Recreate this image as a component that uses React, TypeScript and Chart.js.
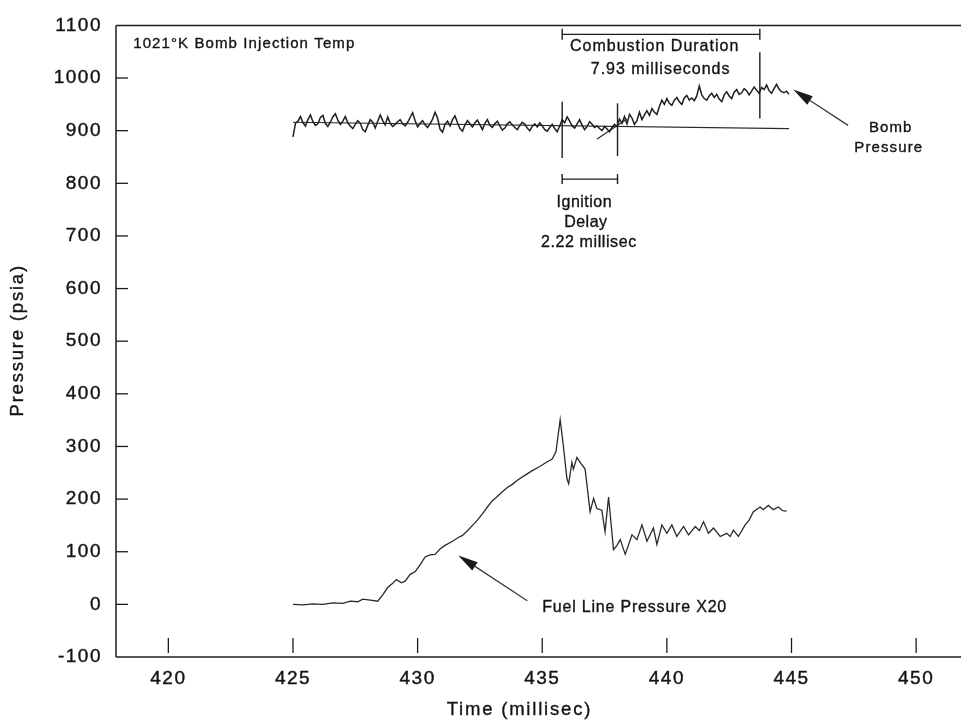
import React, { useEffect, useRef } from 'react';
import { Chart, registerables } from 'chart.js';

Chart.register(...registerables);

const FONT = '"Liberation Sans", Arial, sans-serif';
const INK = '#1c1c1c';
const TEXT = '#141414';

// Axis ranges and ticks
const xRange = [417.9, 451.8];
const yRange = [-100, 1100];
const xTickValues = [420, 425, 430, 435, 440, 445, 450];
const yTickValues = [-100, 0, 100, 200, 300, 400, 500, 600, 700, 800, 900, 1000, 1100];

// Bomb pressure (psia), sampled every 0.1 ms from 425.0 ms
const bombStart = 425.0;
const bombStep = 0.1;
const bombValues = [
  888, 914, 918, 927, 915, 909, 921, 930, 917, 910,
  913, 925, 929, 914, 908, 916, 926, 932, 920, 912,
  918, 927, 915, 909, 904, 912, 919, 914, 902, 898,
  910, 921, 916, 905, 918, 930, 919, 911, 926, 914,
  908, 912, 917, 921, 913, 909, 916, 925, 934, 919,
  907, 914, 919, 911, 906, 913, 922, 935, 924, 903,
  897, 912, 918, 909, 921, 928, 915, 904, 899, 911,
  919, 913, 907, 915, 920, 911, 902, 914, 921, 910,
  906, 913, 918, 909, 901, 905, 913, 917, 911, 906,
  902, 910, 916, 912, 905, 900, 908, 913, 907, 915,
  909, 902, 899, 906, 912, 904, 898, 909, 921, 915,
  926, 918, 909, 905, 913, 921, 910, 902, 908, 917,
  912, 906, 909, 904, 900, 908, 903, 898, 906, 912,
  908, 922, 914, 927, 913, 931, 924, 912, 919, 935,
  921, 930, 938, 929, 942, 935, 931, 946, 958, 950,
  961, 952, 948, 958, 963, 955, 950, 962, 967, 958,
  962, 957, 966, 985, 968, 961, 958, 966, 971, 963,
  969, 960, 955, 968, 974, 966, 961, 973, 978, 969,
  972, 980, 976, 968, 975, 983, 977, 971, 982, 978,
  987, 976, 971, 980, 988, 979, 974, 972, 975, 969,
];

// Fuel line pressure x20
const fuelTimes = [
  425.0, 425.4, 425.8, 426.2, 426.6, 427.0, 427.3, 427.6, 427.8, 428.1,
  428.4, 428.6, 428.8, 429.0, 429.15, 429.35, 429.5, 429.7, 429.9, 430.1,
  430.3, 430.5, 430.7, 430.9, 431.1, 431.4, 431.6, 431.8, 432.0, 432.2,
  432.4, 432.6, 432.8, 433.0, 433.2, 433.4, 433.6, 433.8, 434.0, 434.3,
  434.6, 434.9, 435.2, 435.4, 435.55, 435.72, 435.85, 435.99, 436.06, 436.19,
  436.25, 436.39, 436.55, 436.72, 436.92, 437.06, 437.19, 437.39, 437.52, 437.66,
  437.86, 438.0, 438.13, 438.33, 438.6, 438.8, 439.0, 439.2, 439.46, 439.6,
  439.8, 440.0, 440.2, 440.4, 440.67, 440.87, 441.14, 441.3, 441.47, 441.67,
  441.87, 442.14, 442.4, 442.54, 442.67, 442.87, 443.14, 443.3, 443.47, 443.74,
  443.87, 444.07, 444.27, 444.47, 444.65, 444.8,
];
const fuelValues = [
  0, -1, 1, 0, 3, 2, 6, 5, 10, 8,
  6, 18, 32, 40, 47, 41, 44, 57, 62, 75,
  90, 94, 95, 105, 112, 120, 126, 131, 140, 150,
  160, 172, 185, 197, 205, 214, 222, 228, 236, 245,
  254, 262, 271, 276, 290, 351, 300, 239, 229, 270,
  257, 279, 268, 257, 176, 201, 182, 179, 138, 204,
  104, 112, 123, 95, 132, 123, 151, 120, 145, 114,
  151, 135, 151, 129, 148, 132, 148, 140, 157, 135,
  145, 129, 135, 129, 141, 129, 151, 160, 176, 185,
  180, 188, 180, 185, 178, 177,
];

// Reference lines drawn by the analyst
const baselineTimes = [425.0, 444.9];
const baselineValues = [916, 904];
const tangentTimes = [437.2, 438.4];
const tangentValues = [884, 922];

// Event markers (ms)
const ignitionStart = 435.8;
const ignitionEnd = 438.02;
const combustionEnd = 443.73;

function drawText(ctx: CanvasRenderingContext2D, text: string, x: number, y: number, size: number, align: string, spacing: number) {
  ctx.save();
  ctx.font = `${size}px ${FONT}`;
  ctx.fillStyle = TEXT;
  ctx.strokeStyle = TEXT;
  ctx.lineWidth = 0.35;
  ctx.textAlign = 'left';
  ctx.textBaseline = 'middle';
  (ctx as any).letterSpacing = spacing + 'px';
  const w = ctx.measureText(text).width - spacing;
  let sx = x;
  if (align === 'center') sx = x - w / 2;
  else if (align === 'right') sx = x - w;
  ctx.fillText(text, sx, y);
  ctx.strokeText(text, sx, y);
  ctx.restore();
}

function seg(ctx: CanvasRenderingContext2D, x1: number, y1: number, x2: number, y2: number) {
  ctx.beginPath();
  ctx.moveTo(x1, y1);
  ctx.lineTo(x2, y2);
  ctx.stroke();
}

function arrow(ctx: CanvasRenderingContext2D, tx: number, ty: number, hx: number, hy: number) {
  const ang = Math.atan2(hy - ty, hx - tx);
  const len = 20;
  const half = 5;
  const bx = hx - len * Math.cos(ang);
  const by = hy - len * Math.sin(ang);
  ctx.save();
  ctx.strokeStyle = '#3a3a3a';
  ctx.fillStyle = '#1a1a1a';
  ctx.lineWidth = 1.3;
  seg(ctx, tx, ty, bx, by);
  ctx.beginPath();
  ctx.moveTo(hx, hy);
  ctx.lineTo(bx + half * Math.sin(ang), by - half * Math.cos(ang));
  ctx.lineTo(bx - half * Math.sin(ang), by + half * Math.cos(ang));
  ctx.closePath();
  ctx.fill();
  ctx.restore();
}

const paperPlugin = {
  id: 'paper',
  beforeDraw(chart: any) {
    const { ctx } = chart;
    ctx.save();
    ctx.fillStyle = '#ffffff';
    ctx.fillRect(0, 0, chart.width, chart.height);
    ctx.restore();
    ctx.letterSpacing = '1.5px';
  },
  beforeDatasetsDraw(chart: any) {
    const { ctx, chartArea: a, scales } = chart;
    const x = scales.x;
    const y = scales.y;
    ctx.save();
    ctx.letterSpacing = '0px';
    ctx.strokeStyle = INK;
    ctx.lineWidth = 1.5;
    ctx.lineCap = 'butt';
    // frame: left, top, bottom
    seg(ctx, a.left, a.top, a.left, a.bottom);
    seg(ctx, a.left, a.top, a.right, a.top);
    seg(ctx, a.left, a.bottom, a.right, a.bottom);
    // inner tick marks
    ctx.lineWidth = 1.3;
    yTickValues.forEach((v) => {
      if (v === yRange[0] || v === yRange[1]) return;
      const py = y.getPixelForValue(v);
      seg(ctx, a.left, py, a.left + 12, py);
    });
    xTickValues.forEach((t) => {
      const px = x.getPixelForValue(t);
      seg(ctx, px, a.bottom - 4, px, a.bottom - 19);
    });
    ctx.restore();
  },
  afterDatasetsDraw(chart: any) {
    const { ctx, chartArea: a, scales } = chart;
    const X = (t: number) => scales.x.getPixelForValue(t);
    const Y = (v: number) => scales.y.getPixelForValue(v);
    ctx.save();
    ctx.letterSpacing = '0px';
    ctx.strokeStyle = INK;
    ctx.lineWidth = 1.4;

    // event verticals
    seg(ctx, X(ignitionStart), Y(955), X(ignitionStart), Y(848));
    seg(ctx, X(ignitionEnd), Y(952), X(ignitionEnd), Y(852));
    seg(ctx, X(combustionEnd), Y(1049), X(combustionEnd), Y(923));

    // combustion duration bracket
    const cy = Y(1083);
    seg(ctx, X(ignitionStart), cy, X(combustionEnd), cy);
    seg(ctx, X(ignitionStart), cy - 5.5, X(ignitionStart), cy + 5.5);
    seg(ctx, X(combustionEnd), cy - 5.5, X(combustionEnd), cy + 5.5);

    // ignition delay bracket
    const iy = Y(808);
    seg(ctx, X(ignitionStart), iy, X(ignitionEnd), iy);
    seg(ctx, X(ignitionStart), iy - 5, X(ignitionStart), iy + 5);
    seg(ctx, X(ignitionEnd), iy - 5, X(ignitionEnd), iy + 5);
    ctx.restore();

    // texts
    drawText(ctx, '1021°K Bomb Injection Temp', X(418.59), Y(1064), 15, 'left', 1.1);
    drawText(ctx, 'Combustion Duration', X(439.49), Y(1059), 16, 'center', 1.0);
    drawText(ctx, '7.93 milliseconds', X(439.73), Y(1016), 16, 'center', 1.0);
    drawText(ctx, 'Ignition', X(436.68), Y(764), 16, 'center', 0.5);
    drawText(ctx, 'Delay', X(436.74), Y(725), 16, 'center', 0.5);
    drawText(ctx, '2.22 millisec', X(436.86), Y(687), 16, 'center', 0.6);
    drawText(ctx, 'Bomb', X(448.96), Y(905), 15, 'center', 1.1);
    drawText(ctx, 'Pressure', X(448.88), Y(867), 15, 'center', 1.1);
    drawText(ctx, 'Fuel Line Pressure X20', X(435.0), Y(-6), 16, 'left', 0.8);

    // arrows
    arrow(ctx, X(447.27), Y(910), X(445.07), Y(978));
    arrow(ctx, X(434.4), Y(7), X(431.63), Y(93));

    // axis titles
    drawText(ctx, 'Time (millisec)', 518.5, 710, 18.5, 'center', 1.8);
    ctx.save();
    ctx.translate(18, (a.top + a.bottom) / 2);
    ctx.rotate(-Math.PI / 2);
    drawText(ctx, 'Pressure (psia)', 0, 0, 18.5, 'center', 1.8);
    ctx.restore();
  },
  afterDraw(chart: any) {
    chart.ctx.letterSpacing = '0px';
  },
};

export default function App() {
  const canvasRef = useRef<HTMLCanvasElement | null>(null);

  useEffect(() => {
    const canvas = canvasRef.current;
    if (!canvas) return;
    const bombData = bombValues.map((v, i) => ({ x: +(bombStart + i * bombStep).toFixed(2), y: v }));
    const fuelData = fuelTimes.map((t, i) => ({ x: t, y: fuelValues[i] }));
    const baseData = baselineTimes.map((t, i) => ({ x: t, y: baselineValues[i] }));
    const tanData = tangentTimes.map((t, i) => ({ x: t, y: tangentValues[i] }));

    const chart = new Chart(canvas, {
      type: 'line',
      data: {
        datasets: [
          { label: 'Bomb Pressure', data: bombData, borderColor: '#1f1f1f', borderWidth: 1.5, pointRadius: 0, tension: 0 },
          { label: 'Fuel Line Pressure X20', data: fuelData, borderColor: '#2a2a2a', borderWidth: 1.3, pointRadius: 0, tension: 0 },
          { label: 'Baseline', data: baseData, borderColor: '#2a2a2a', borderWidth: 1.2, pointRadius: 0, tension: 0 },
          { label: 'Tangent', data: tanData, borderColor: '#2a2a2a', borderWidth: 1.2, pointRadius: 0, tension: 0 },
        ],
      },
      options: {
        responsive: false,
        animation: false,
        events: [],
        layout: { padding: { top: 18, left: 0, right: 0, bottom: 0 } },
        plugins: {
          legend: { display: false },
          tooltip: { enabled: false },
          title: { display: false },
        },
        scales: {
          x: {
            type: 'linear',
            min: xRange[0],
            max: xRange[1],
            grid: { display: false, drawTicks: false },
            border: { display: false },
            ticks: {
              font: { size: 19, family: FONT },
              color: TEXT,
              textStrokeColor: TEXT,
              textStrokeWidth: 0.4,
              padding: 10,
              maxRotation: 0,
              autoSkip: false,
              callback: (v: any) => String(v),
            },
            afterBuildTicks: (s: any) => {
              s.ticks = xTickValues.map((v) => ({ value: v }));
            },
            afterFit: (s: any) => {
              s.height = 68;
            },
          },
          y: {
            type: 'linear',
            min: yRange[0],
            max: yRange[1],
            grid: { display: false, drawTicks: false },
            border: { display: false },
            ticks: {
              font: { size: 19, family: FONT },
              color: TEXT,
              textStrokeColor: TEXT,
              textStrokeWidth: 0.4,
              padding: 14,
              autoSkip: false,
              callback: (v: any) => String(v),
            },
            afterBuildTicks: (s: any) => {
              s.ticks = yTickValues.map((v) => ({ value: v }));
            },
            afterFit: (s: any) => {
              s.width = 116;
            },
          },
        },
      },
      plugins: [paperPlugin],
    } as any);

    return () => chart.destroy();
  }, []);

  return (
    <div style={{ position: 'absolute', left: 0, top: 0, width: 961, height: 725, background: '#fff' }}>
      <canvas ref={canvasRef} width={961} height={725} style={{ display: 'block' }} />
    </div>
  );
}
